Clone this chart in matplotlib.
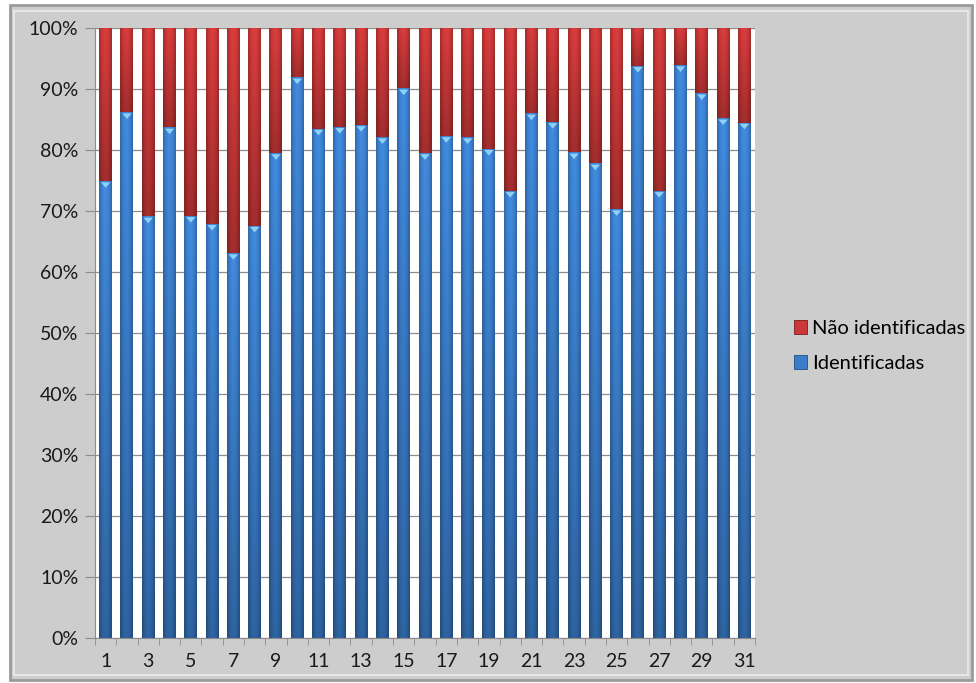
import matplotlib.pyplot as plt
import numpy as np
from matplotlib.patches import Rectangle
from matplotlib.ticker import FixedLocator, PercentFormatter

plt.rcParams["font.family"] = ["Lato", "DejaVu Sans"]

days = list(range(1, 32))
identificadas = [
    74.9, 86.2, 69.1, 83.7, 69.2, 67.9, 63.1, 67.6, 79.5, 91.9,
    83.5, 83.8, 84.1, 82.1, 90.1, 79.5, 82.3, 82.1, 80.2, 73.3,
    86.0, 84.6, 79.6, 77.8, 70.3, 93.8, 73.3, 93.9, 89.3, 85.2,
    84.5,
]
nao_identificadas = [100 - v for v in identificadas]

BLUE = np.array([0.23, 0.49, 0.79])
RED = np.array([0.80, 0.22, 0.22])

fig = plt.figure(figsize=(9.76, 6.83), dpi=100)
fig.patch.set_facecolor("white")

# grey chart frame with a light bevel
W, H = 976, 683
fig.patches.append(Rectangle((10 / W, 3 / H), 962 / W, 675 / H,
                             transform=fig.transFigure, facecolor="#cdcdcd",
                             edgecolor="#9a9a9a", lw=2.0, zorder=-5))
fig.patches.append(Rectangle((14 / W, 8 / H), 954 / W, 664 / H,
                             transform=fig.transFigure, facecolor="none",
                             edgecolor="#e6e6e6", lw=1.5, zorder=-4))

ax = fig.add_axes([95 / W, 45 / H, 660 / W, 610 / H])
ax.set_zorder(2)
ax.set_facecolor("white")

x = np.array(days)
width = 0.61
blue_bars = ax.bar(x, identificadas, width=width, color=BLUE, zorder=2,
                   label="Identificadas")
red_bars = ax.bar(x, nao_identificadas, width=width, bottom=identificadas,
                  color=RED, zorder=2, label="Não identificadas")


def shade(bars, base, top_light, bottom_dark):
    # cylinder-like shading: horizontal highlight, vertical darkening
    h = np.linspace(-1, 1, 40)
    hfac = 1.06 - 0.28 * h ** 2
    for bar in bars:
        x0, y0 = bar.get_x(), bar.get_y()
        w, hgt = bar.get_width(), bar.get_height()
        v = np.linspace(bottom_dark, top_light, 60)[:, None]
        img = np.clip(base[None, None, :] * v[:, :, None] * hfac[None, :, None], 0, 1)
        im = ax.imshow(img, extent=(x0, x0 + w, y0, y0 + hgt), origin="lower",
                       aspect="auto", zorder=2.5, interpolation="bilinear")
        im.set_clip_path(bar)


shade(blue_bars, BLUE, 1.05, 0.76)
shade(red_bars, RED, 1.02, 0.76)

# light cap on top of the blue segments
for bar in blue_bars:
    cx = bar.get_x() + bar.get_width() / 2
    top = bar.get_y() + bar.get_height()
    ax.fill([cx - 0.22, cx + 0.22, cx], [top - 0.2, top - 0.2, top - 1.1],
            color="#8fd0f5", zorder=3, lw=0)

ax.set_xlim(0.5, 31.5)
ax.set_ylim(0, 100)
ax.yaxis.set_major_locator(FixedLocator(np.arange(0, 101, 10)))
ax.yaxis.set_major_formatter(PercentFormatter(decimals=0))
ax.yaxis.grid(True, color="#8c8c8c", lw=0.9, zorder=1)
ax.set_axisbelow(True)

ax.set_xticks(days[::2])
ax.set_xticklabels([str(d) for d in days[::2]])
ax.set_xticks(np.arange(0.5, 32, 1), minor=True)
ax.tick_params(axis="x", which="major", length=0, pad=11,
               labelsize=14, labelcolor="#1a1a1a")
ax.tick_params(axis="x", which="minor", length=5, color="#8c8c8c", direction="out")
ax.tick_params(axis="y", length=7, color="#8c8c8c", labelsize=14,
               labelcolor="#1a1a1a", pad=5)

for side in ("top", "right"):
    ax.spines[side].set_visible(False)
for side in ("left", "bottom"):
    ax.spines[side].set_color("#8c8c8c")

handles = [Rectangle((0, 0), 1, 1, facecolor=RED, edgecolor="#7a1c1c", lw=0.6),
           Rectangle((0, 0), 1, 1, facecolor=BLUE, edgecolor="#1f4f88", lw=0.6)]
fig.legend(handles, ["Não identificadas", "Identificadas"],
           loc="center left", bbox_to_anchor=(776 / W, 1 - 346 / H),
           frameon=False, fontsize=14.5, handlelength=0.65, handleheight=0.65,
           handletextpad=0.25, labelspacing=0.9)

fig.savefig("out.png", dpi=100, facecolor=fig.get_facecolor())
